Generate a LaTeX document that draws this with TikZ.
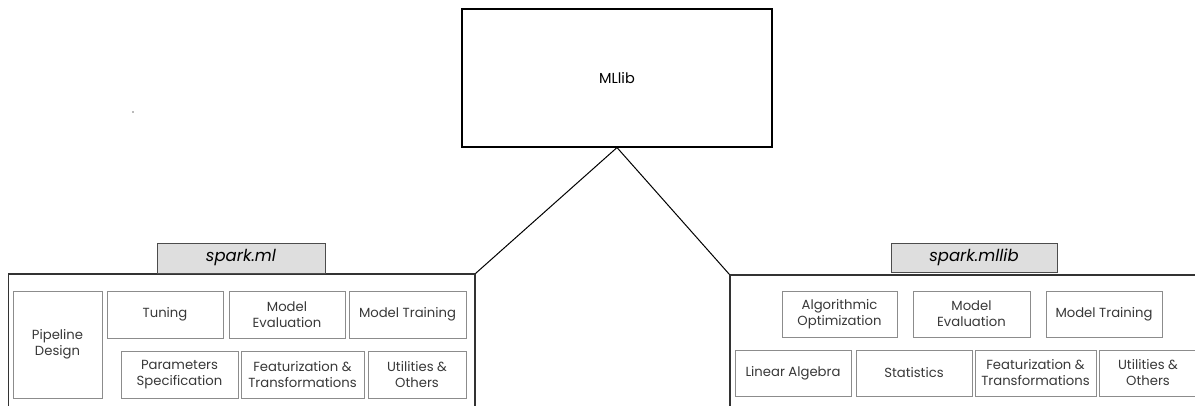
\documentclass[tikz,border=0pt]{standalone}
\usepackage{fontspec}
\setmainfont{Poppins}
\begin{document}
\begin{tikzpicture}[x=1pt,y=-1pt,
  every node/.style={inner sep=0pt, align=center},
  topbox/.style={draw=black, line width=1.1pt, font=\fontsize{14.5}{18}\selectfont},
  groupbox/.style={draw=black!80, line width=1.2pt},
  tagbox/.style={draw=black!70, fill=black!13, line width=0.9pt, font=\fontsize{16.5}{19}\selectfont\itshape},
  item/.style={draw=black!45, line width=0.8pt, text=black!78, font=\fontsize{13.2}{16}\selectfont},
  link/.style={draw=black, line width=1pt}]
\useasboundingbox (0,0) rectangle (1195,405);
\clip (0,0) rectangle (1195,405);

% root
\node[topbox, minimum width=310, minimum height=138] (mllib) at (617,78) {MLlib};

% the two package containers (open towards the bottom edge)
\node[groupbox, minimum width=466.5, minimum height=156] (ml) at (241.75,352) {};
\node[groupbox, minimum width=480, minimum height=155] (mllibpkg) at (970,352.5) {};

\draw[link] (ml.north east) -- (mllib.south) -- (mllibpkg.north west);

% package names
\node[tagbox, minimum width=168, minimum height=30] (mltag) at (241,258) {spark.ml};
\node[tagbox, minimum width=166, minimum height=29] (mllibtag) at (974,257.5) {spark.mllib};

% spark.ml components
\node[item, minimum width=89, minimum height=107] (pipe) at (57.5,344.5) {Pipeline\\Design};
\node[item, minimum width=116, minimum height=47] (tune) at (165,314.5) {Tuning};
\node[item, minimum width=116, minimum height=47] (evalA) at (287,314.5) {Model\\Evaluation};
\node[item, minimum width=117, minimum height=47] (trainA) at (407.5,314.5) {Model Training};
\node[item, minimum width=117, minimum height=47] (params) at (179.5,374.5) {Parameters\\Specification};
\node[item, minimum width=123, minimum height=47] (featA) at (302.5,374.5) {Featurization \&\\Transformations};
\node[item, minimum width=98, minimum height=47] (utilA) at (417,374.5) {Utilities \&\\Others};

% spark.mllib components
\node[item, minimum width=115, minimum height=46] (algo) at (839.5,314) {Algorithmic\\Optimization};
\node[item, minimum width=117, minimum height=46] (evalB) at (971.5,314) {Model\\Evaluation};
\node[item, minimum width=116, minimum height=46] (trainB) at (1104,314) {Model Training};
\node[item, minimum width=116, minimum height=46] (linalg) at (793,373) {Linear Algebra};
\node[item, minimum width=116, minimum height=46] (stats) at (914,373) {Statistics};
\node[item, minimum width=121, minimum height=46] (featB) at (1035.5,373) {Featurization \&\\Transformations};
\node[item, minimum width=98, minimum height=46] (utilB) at (1148,373) {Utilities \&\\Others};

% stray speck
\fill[black!55] (133,112) circle (0.9);
\end{tikzpicture}
\end{document}
